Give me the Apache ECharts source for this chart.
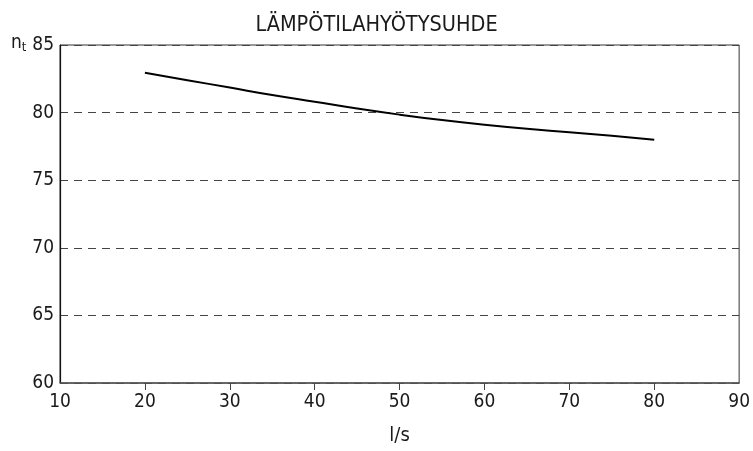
<!DOCTYPE html>
<html>
<head>
<meta charset="utf-8">
<script src="https://cdn.jsdelivr.net/npm/echarts@6/dist/echarts.min.js"></script>
<style>html,body{margin:0;padding:0;background:#fff}#c{width:753px;height:451px}</style>
</head>
<body>
<div id="c"></div>
<script>
var flowValues = [20, 25, 30, 35, 40, 45, 50, 55, 60, 65, 70, 75, 80];
var efficiencyValues = [82.95, 82.4, 81.85, 81.3, 80.8, 80.3, 79.85, 79.45, 79.1, 78.8, 78.55, 78.28, 78.0];
var xTickLabels = [10, 20, 30, 40, 50, 60, 70, 80, 90];
var xTickMarks = [20, 30, 40, 50, 60, 70, 80];
var titleText = 'LÄMPÖTILAHYÖTYSUHDE';
var xName = 'l/s';

var FONT = '"Liberation Sans Narrow", "DejaVu Sans Condensed", "Open Sans", sans-serif';
var chart = echarts.init(document.getElementById('c'), null, {renderer: 'canvas'});
chart.setOption({
  animation: false,
  backgroundColor: '#fff',
  title: {
    text: titleText, left: 'center', top: 9,
    textStyle: {fontFamily: FONT, fontSize: 21.5, fontWeight: 'normal', color: '#1a1a1a'}
  },
  graphic: [{
    type: 'text', left: 11, top: 34,
    style: {
      text: '{n|n}{t|t}',
      rich: {
        n: {fontFamily: FONT, fontSize: 19, fill: '#1a1a1a'},
        t: {fontFamily: FONT, fontSize: 13, fill: '#1a1a1a', verticalAlign: 'bottom', padding: [9, 0, 0, 0]}
      }
    }
  }],
  grid: {left: 60, right: 13, top: 45, bottom: 65, show: true, borderColor: '#333', borderWidth: 1},
  xAxis: {
    type: 'value', min: 10, max: 90, interval: 10,
    name: xName, nameLocation: 'middle', nameGap: 43,
    nameTextStyle: {fontFamily: FONT, fontSize: 20, color: '#1a1a1a'},
    axisLine: {show: true, lineStyle: {color: '#555', width: 1.5}},
    axisTick: {show: true, length: 7, customValues: xTickMarks, lineStyle: {color: '#444'}},
    axisLabel: {customValues: xTickLabels, fontFamily: FONT, fontSize: 19, color: '#1a1a1a', margin: 10},
    splitLine: {show: false}
  },
  yAxis: {
    type: 'value', min: 60, max: 85, interval: 5,
    axisLine: {show: true, lineStyle: {color: '#111', width: 1.2}},
    axisTick: {show: false},
    axisLabel: {fontFamily: FONT, fontSize: 19, color: '#1a1a1a', margin: 6},
    splitLine: {show: true, lineStyle: {type: [8, 6], color: '#444', width: 1}}
  },
  series: [{
    type: 'line',
    data: flowValues.map(function (x, i) { return [x, efficiencyValues[i]]; }),
    smooth: true, showSymbol: false,
    lineStyle: {color: '#000', width: 2}
  }]
});
</script>
</body>
</html>
